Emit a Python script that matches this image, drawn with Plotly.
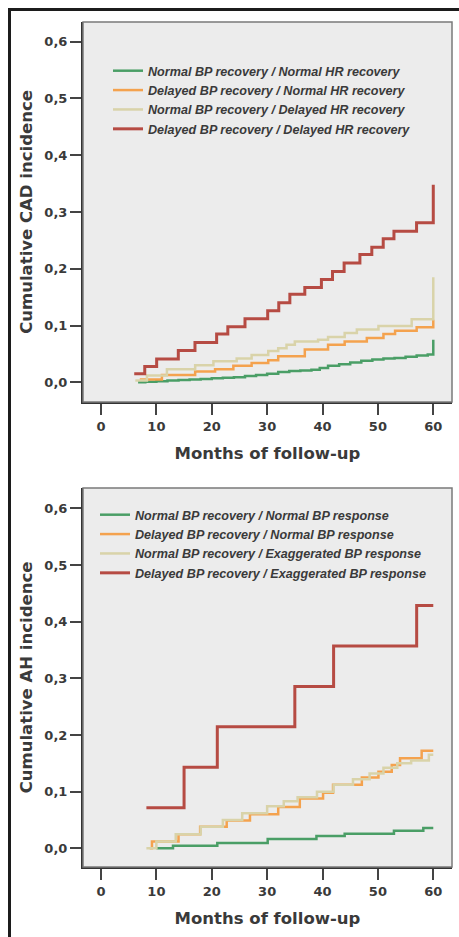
import plotly.graph_objects as go

# ---------------- data ----------------
x_tick_vals = [0, 10, 20, 30, 40, 50, 60]
y_tick_vals = [0.0, 0.1, 0.2, 0.3, 0.4, 0.5, 0.6]
y_tick_text = ["0,0", "0,1", "0,2", "0,3", "0,4", "0,5", "0,6"]

cad_names = [
    "Normal BP recovery / Normal HR recovery",
    "Delayed BP recovery / Normal HR recovery",
    "Normal BP recovery / Delayed HR recovery",
    "Delayed BP recovery / Delayed HR recovery",
]
cad_green_x = [6.7, 8, 10, 12, 14, 16, 18, 20, 22, 24, 26, 28, 30, 32, 34, 36, 38, 39.5,
               41, 43, 45, 47, 49, 51, 53, 55, 57, 59, 60]
cad_green_y = [0.0, 0.001, 0.002, 0.003, 0.004, 0.005, 0.006, 0.007, 0.008, 0.009, 0.011,
               0.013, 0.015, 0.018, 0.020, 0.021, 0.022, 0.025, 0.029, 0.032, 0.035, 0.038,
               0.040, 0.042, 0.043, 0.045, 0.047, 0.049, 0.075]
cad_orange_x = [7.0, 11.0, 17.0, 20.6, 23.9, 27.2, 30.2, 32.0, 36.8, 41.0, 44.0, 48.0,
                51.0, 53.1, 57.0, 60.0]
cad_orange_y = [0.005, 0.013, 0.019, 0.023, 0.029, 0.034, 0.039, 0.046, 0.058, 0.066,
                0.072, 0.078, 0.085, 0.091, 0.097, 0.110]
cad_tan_x = [6.2, 8.3, 11.9, 17.0, 20.3, 24.5, 27.2, 30.2, 32.0, 33.5, 35.0, 39.2, 41.0,
             44.0, 46.2, 50.1, 56.1, 60.0]
cad_tan_y = [0.003, 0.012, 0.023, 0.030, 0.037, 0.042, 0.048, 0.055, 0.060, 0.066, 0.072,
             0.075, 0.080, 0.087, 0.093, 0.099, 0.111, 0.185]
cad_red_x = [6.0, 7.9, 10.05, 13.96, 16.97, 20.88, 22.9, 26.0, 30.1, 32.1, 34.1, 36.8, 39.8,
             41.8, 43.9, 46.75, 48.9, 50.96, 52.9, 56.98, 60.0]
cad_red_y = [0.015, 0.028, 0.041, 0.056, 0.070, 0.085, 0.098, 0.112, 0.126, 0.140, 0.155,
             0.167, 0.181, 0.195, 0.210, 0.225, 0.238, 0.253, 0.266, 0.281, 0.348]

ah_names = [
    "Normal BP recovery / Normal BP response",
    "Delayed BP recovery / Normal BP response",
    "Normal BP recovery / Exaggerated BP response",
    "Delayed BP recovery / Exaggerated BP response",
]
ah_green_x = [10.0, 13.0, 21.0, 30.1, 38.9, 44.0, 52.9, 58.2, 60.0]
ah_green_y = [0.0, 0.0046, 0.0095, 0.0162, 0.0217, 0.0255, 0.031, 0.0358, 0.0358]
ah_orange_x = [8.8, 9.2, 14.0, 17.9, 22.7, 26.9, 32.0, 35.9, 40.1, 41.9, 47.1, 50.1, 52.5,
               54.0, 57.9, 60.0]
ah_orange_y = [0.0, 0.012, 0.025, 0.038, 0.049, 0.060, 0.073, 0.088, 0.098, 0.112, 0.125,
               0.135, 0.147, 0.159, 0.172, 0.172]
ah_tan_x = [8.2, 10.0, 13.5, 18.0, 22.0, 25.5, 30.0, 33.0, 35.5, 39.0, 42.0, 45.5, 48.5,
            51.0, 53.5, 56.0, 59.2, 60.0]
ah_tan_y = [0.0, 0.012, 0.025, 0.038, 0.050, 0.062, 0.074, 0.083, 0.090, 0.100, 0.112,
            0.122, 0.132, 0.142, 0.150, 0.155, 0.165, 0.165]
ah_red_x = [8.2, 15.0, 21.0, 35.0, 42.0, 57.0, 60.0]
ah_red_y = [0.0714, 0.1429, 0.2143, 0.2857, 0.3571, 0.4286, 0.4286]

colors = ["#4a9e66", "#f4a24e", "#d9d3a9", "#b64b43"]
widths = [2.5, 2.5, 2.5, 3]

# ---------------- figure ----------------
W, H = 459, 937
fig = go.Figure()

cad_series = [(cad_green_x, cad_green_y), (cad_orange_x, cad_orange_y),
              (cad_tan_x, cad_tan_y), (cad_red_x, cad_red_y)]
ah_series = [(ah_green_x, ah_green_y), (ah_orange_x, ah_orange_y),
             (ah_tan_x, ah_tan_y), (ah_red_x, ah_red_y)]

for i, (xs, ys) in enumerate(cad_series):
    fig.add_trace(go.Scatter(x=xs, y=ys, mode="lines", name=cad_names[i],
                             line=dict(color=colors[i], width=widths[i], shape="hv"),
                             xaxis="x", yaxis="y", legend="legend"))
for i, (xs, ys) in enumerate(ah_series):
    fig.add_trace(go.Scatter(x=xs, y=ys, mode="lines", name=ah_names[i],
                             line=dict(color=colors[i], width=widths[i], shape="hv"),
                             xaxis="x2", yaxis="y2", legend="legend2"))

tick_font = dict(family="DejaVu Sans", size=13, color="#3a3a3a", weight="bold")
title_font = dict(family="DejaVu Sans", size=16.5, color="#3a3a3a", weight="bold")
leg_font = dict(family="Liberation Sans", size=12.6, color="#3a3a3a", weight="bold",
                style="italic")

x_dom = [83 / W, 452 / W]
top_dom = [1 - 402 / H, 1 - 22 / H]
bot_dom = [1 - 867 / H, 1 - 488 / H]

def xaxis(anchor, title):
    return dict(domain=x_dom, anchor=anchor, range=[-3.25, 63.38], tickmode="array",
                tickvals=x_tick_vals, ticks="outside", ticklen=11, tickwidth=2,
                tickcolor="#444", tickfont=tick_font, showgrid=False, zeroline=False,
                showline=True, linecolor="#333", linewidth=2,
                title=dict(text=title, font=title_font, standoff=15))

def yaxis(anchor, dom, rng, title):
    return dict(domain=dom, anchor=anchor, range=rng, tickmode="array",
                tickvals=y_tick_vals, ticktext=y_tick_text, ticks="outside", ticklen=11,
                tickwidth=2, tickcolor="#444", tickfont=tick_font, showgrid=False,
                zeroline=False, showline=True, linecolor="#333", linewidth=2,
                title=dict(text=title, font=title_font, standoff=8))

fig.update_layout(
    width=W, height=H, margin=dict(l=0, r=0, t=0, b=0),
    paper_bgcolor="white", plot_bgcolor="#ececec",
    xaxis=xaxis("y", "Months of follow-up"),
    yaxis=yaxis("x", top_dom, [-0.0347, 0.6347], "Cumulative CAD incidence"),
    xaxis2=xaxis("y2", "Months of follow-up"),
    yaxis2=yaxis("x2", bot_dom, [-0.033, 0.6358], "Cumulative AH incidence"),
    legend=dict(x=108 / W, y=1 - 56 / H, xanchor="left", yanchor="top",
                bgcolor="rgba(0,0,0,0)", font=leg_font, itemwidth=30,
                tracegroupgap=0),
    legend2=dict(x=95 / W, y=1 - 500 / H, xanchor="left", yanchor="top",
                 bgcolor="rgba(0,0,0,0)", font=leg_font, itemwidth=30,
                 tracegroupgap=0),
    showlegend=True,
    shapes=[
        # light top/right borders of both plot areas
        dict(type="rect", xref="x domain", yref="y domain", x0=0, x1=1, y0=0, y1=1,
             line=dict(color="#7a7a7a", width=1.5), layer="above"),
        dict(type="rect", xref="x2 domain", yref="y2 domain", x0=0, x1=1, y0=0, y1=1,
             line=dict(color="#7a7a7a", width=1.5), layer="above"),
        # outer frame
        dict(type="rect", xref="paper", yref="paper", x0=9.5 / W, x1=1.05,
             y0=-0.05, y1=1 - 9.5 / H, line=dict(color="#1c1c1c", width=3)),
    ],
)

fig.write_html("out.html")
